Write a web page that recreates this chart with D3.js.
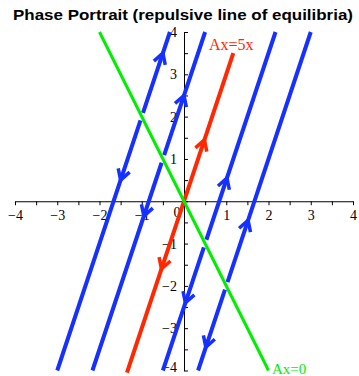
<!DOCTYPE html>
<html>
<head>
<meta charset="utf-8">
<script src="https://cdn.jsdelivr.net/npm/d3@7"></script>
<style>
  html, body { margin: 0; padding: 0; background: #fff; }
  svg { display: block; }
</style>
</head>
<body>
<svg id="chart" width="359" height="376"></svg>
<script>
// Linear system with a null direction (line of equilibria) and an eigenvalue 5 direction
const nullDir = [1, -2];          // A v = 0
const eigDir = [1, 3];            // A v = 5 v
const eigenvalue = 5;

// Trajectories start on the equilibrium line at c * nullDir
const blueParams = [-1, -0.5, 0.5, 1];
// Arrow placement, as a change in y from each equilibrium point
const blueUpArrowDy = [1.5, 1.5, 1.55, 1.55];
const blueDownArrowDy = [-1.5, -1.35, -1.4, -1.45];
// Eigen line through the origin: extent in y and arrow placement
const redExtentY = [-4.05, 3.5];
const redArrowDy = [1.45, -1.6];
// Line of equilibria extent in x
const greenExtentX = [-2, 2];

const xTicks = d3.range(-4, 4.01, 0.5);
const yTicks = d3.range(-4, 4.01, 0.5);
const domain = [-4, 4];

const title = "Phase Portrait (repulsive line of equilibria)";
const eigLabel = "Ax=5x";
const nullLabel = "Ax=0";

const svg = d3.select("#chart");
const x = d3.scaleLinear().domain(domain).range([15, 353]);
const y = d3.scaleLinear().domain(domain).range([370.5, 32]);

const BLUE = "#1530ff", RED = "#ff2800", GREEN = "#00ee00";
const serif = "'Liberation Serif', 'DejaVu Serif', serif";

// Title
svg.append("text")
  .attr("x", 183).attr("y", 20)
  .attr("text-anchor", "middle")
  .attr("font-family", "'Liberation Sans', Arial, sans-serif")
  .attr("font-weight", "bold")
  .attr("font-size", 15.5)
  .attr("textLength", 340)
  .attr("lengthAdjust", "spacingAndGlyphs")
  .text(title);

// Axes crossing at the origin
const fmt = d => (Number.isInteger(d) && d !== 0) ? String(d).replace("-", "\u2212") : "";

const xAxis = svg.append("g")
  .attr("transform", `translate(0,${y(0)})`)
  .call(d3.axisBottom(x).tickValues(xTicks).tickSize(4).tickSizeOuter(0).tickPadding(5).tickFormat(fmt));

const yAxis = svg.append("g")
  .attr("transform", `translate(${x(0)},0)`)
  .call(d3.axisLeft(y).tickValues(yTicks).tickSize(-4).tickSizeOuter(0).tickPadding(7).tickFormat(fmt));

[xAxis, yAxis].forEach(g => {
  g.selectAll("text").attr("font-family", serif).attr("font-size", 14).attr("fill", "#000");
  g.selectAll("line, path").attr("stroke", "#000").attr("stroke-width", 1);
});
yAxis.selectAll(".tick line").attr("x2", 4);
// keep the lowest label inside the frame
yAxis.selectAll(".tick text").filter(d => d === domain[0]).attr("dy", "0.1em");

svg.append("text")
  .attr("x", x(0) - 7).attr("y", y(0) + 16)
  .attr("text-anchor", "middle")
  .attr("font-family", serif).attr("font-size", 14)
  .text("0");

const line = d3.line().x(d => x(d[0])).y(d => y(d[1]));

// Point on the trajectory through equilibrium c*nullDir, reached after moving dy in y
const pointAt = (c, dy) => {
  const s = dy / eigDir[1];
  return [c * nullDir[0] + s * eigDir[0], c * nullDir[1] + s * eigDir[1]];
};

// Chevron arrowhead at point p pointing along direction sign*eigDir
function arrow(p, sign, color) {
  const px = x(p[0]), py = y(p[1]);
  const ang = Math.atan2(-(eigDir[1]) * sign, eigDir[0] * sign);
  const len = 12, spread = Math.PI / 6;
  const a1 = ang + Math.PI - spread, a2 = ang + Math.PI + spread;
  svg.append("path")
    .attr("d", `M${px + len * Math.cos(a1)},${py + len * Math.sin(a1)}L${px},${py}L${px + len * Math.cos(a2)},${py + len * Math.sin(a2)}`)
    .attr("fill", "none").attr("stroke", color).attr("stroke-width", 3.5)
    .attr("stroke-linecap", "butt").attr("stroke-linejoin", "miter");
}

// Blue trajectories: each leaves its equilibrium point in both directions and runs to the frame
const gap = 0.09;
blueParams.forEach((c, i) => {
  const eqY = c * nullDir[1];
  const up = [pointAt(c, gap), pointAt(c, domain[1] - eqY)];
  const down = [pointAt(c, -gap), pointAt(c, domain[0] - eqY)];
  [up, down].forEach(seg => {
    svg.append("path").attr("d", line(seg))
      .attr("fill", "none").attr("stroke", BLUE).attr("stroke-width", 4);
  });
  arrow(pointAt(c, blueUpArrowDy[i]), 1, BLUE);
  arrow(pointAt(c, blueDownArrowDy[i]), -1, BLUE);
});

// Eigen line Ax = 5x
svg.append("path")
  .attr("d", line(redExtentY.map(v => pointAt(0, v))))
  .attr("fill", "none").attr("stroke", RED).attr("stroke-width", 4);
redArrowDy.forEach(dy => arrow(pointAt(0, dy), Math.sign(dy), RED));

// Line of equilibria Ax = 0
svg.append("path")
  .attr("d", line(greenExtentX.map(t => [t * nullDir[0], t * nullDir[1]])))
  .attr("fill", "none").attr("stroke", GREEN).attr("stroke-width", 3);

svg.append("text")
  .attr("x", x(0.59)).attr("y", y(3.57))
  .attr("font-family", serif).attr("font-size", 16)
  .attr("fill", RED).text(eigLabel);

svg.append("text")
  .attr("x", x(2.08)).attr("y", 374)
  .attr("font-family", serif).attr("font-size", 15)
  .attr("fill", GREEN).text(nullLabel);
</script>
</body>
</html>
